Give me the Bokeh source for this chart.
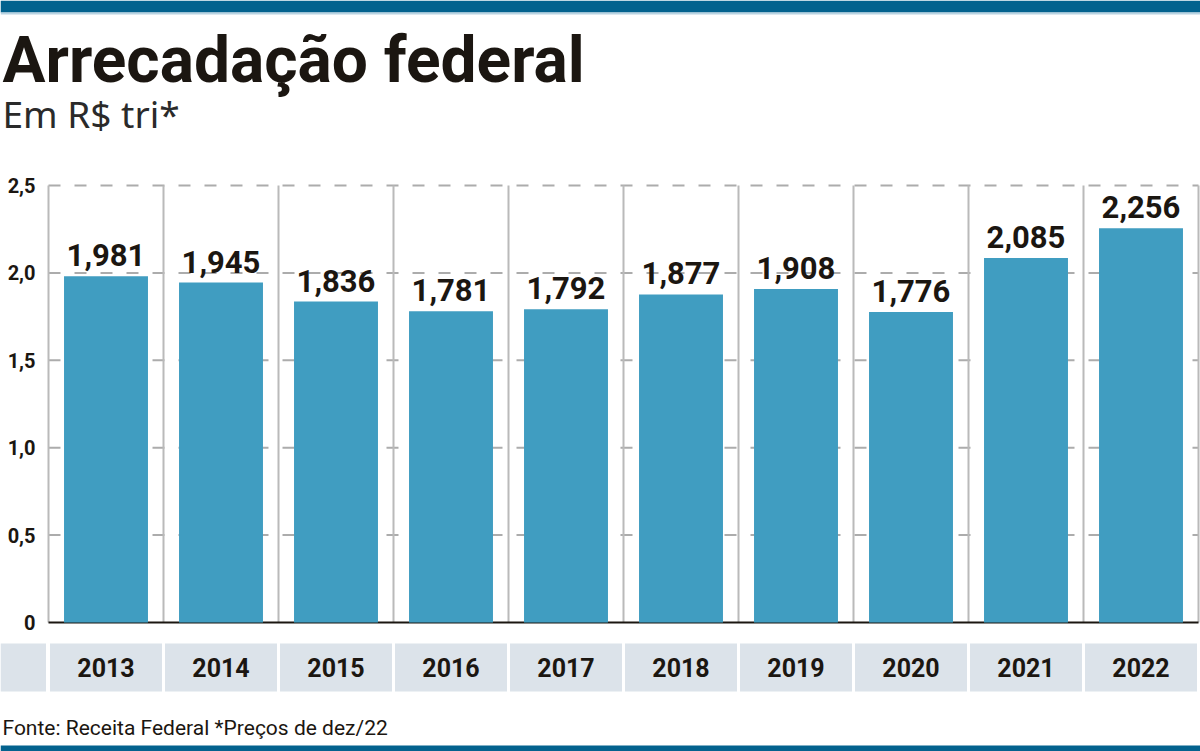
from bokeh.plotting import figure
from bokeh.models import Range1d, Label, BoxAnnotation, ColumnDataSource
from bokeh.core.properties import value
from bokeh.embed import file_html
from bokeh.resources import INLINE

# ---- data ----
years = ["2013", "2014", "2015", "2016", "2017", "2018", "2019", "2020", "2021", "2022"]
revenue = [1.981, 1.945, 1.836, 1.781, 1.792, 1.877, 1.908, 1.776, 2.085, 2.256]
value_labels = ["1,981", "1,945", "1,836", "1,781", "1,792", "1,877", "1,908", "1,776", "2,085", "2,256"]
y_ticks = [0, 0.5, 1.0, 1.5, 2.0, 2.5]
y_tick_labels = ["0", "0,5", "1,0", "1,5", "2,0", "2,5"]

title = "Arrecadação federal"
subtitle = "Em R$ tri*"
footer = "Fonte: Receita Federal *Preços de dez/22"

W, H = 1200, 751
BLUE = "#409dc1"
DARK = "#1b1611"

# pixel mapping: column pitch 115 px, first column centre at 105.5 px; zero at 622 px, 174.8 px per unit
px_per_unit = 174.8
x0_px, col_px, zero_px = 105.5, 115.0, 622.0
x_range = Range1d((0 - x0_px) / col_px, (W - x0_px) / col_px)
y_range = Range1d(-(H - zero_px) / px_per_unit, zero_px / px_per_unit)

p = figure(width=W, height=H, x_range=x_range, y_range=y_range,
           x_axis_type=None, y_axis_type=None, toolbar_location=None,
           output_backend="svg", min_border=0)
p.outline_line_color = None
p.background_fill_color = "white"
p.border_fill_color = "white"
p.grid.visible = False

xs = list(range(len(years)))
src = ColumnDataSource(dict(x=xs, top=revenue, lab=value_labels, year=years))

# dashed horizontal gridlines
ymax = y_ticks[-1]
grid_y = [t for t in y_ticks if t > 0]
p.segment(x0=[-0.5] * len(grid_y), x1=[len(years) - 0.5] * len(grid_y), y0=grid_y, y1=grid_y,
          line_color="#acacac", line_width=2, line_dash="12 14")

# vertical column separators
bounds = [i - 0.5 for i in range(len(years) + 1)]
p.segment(x0=bounds, x1=bounds, y0=[0] * len(bounds), y1=[ymax] * len(bounds),
          line_color="#bababa", line_width=2)

# zero line
p.segment(x0=[-0.5], x1=[len(years) - 0.5], y0=[0], y1=[0], line_color=DARK, line_width=2)

# bars
p.vbar(x="x", top="top", bottom=0, width=0.73, source=src, fill_color=BLUE, line_color=None)

# value labels
p.text(x="x", y="top", text="lab", source=src, text_align="center", text_baseline="alphabetic",
       y_offset=-21, text_font=value("Roboto"), text_font_style="bold", text_font_size="31px",
       text_color=DARK)

# x category band
gap = 1.5 / col_px
band_top = -21 / px_per_unit
band_bot = -69 / px_per_unit
p.quad(left=[x - 0.5 + gap for x in xs], right=[x + 0.5 - gap for x in xs],
       top=band_top, bottom=band_bot, fill_color="#dce3ea", line_color=None)
p.quad(left=[x_range.start], right=[-0.5 - 2.5 / col_px], top=band_top, bottom=band_bot,
       fill_color="#dce3ea", line_color=None)
p.text(x="x", y=(band_top + band_bot) / 2, text="year", source=src, text_align="center",
       text_baseline="middle", text_font=value("Roboto"), text_font_style="bold",
       text_font_size="25px", text_color=DARK)

# y tick labels
tick_x = (35 - x0_px) / col_px
p.text(x=[tick_x] * len(y_ticks), y=y_ticks, text=y_tick_labels, text_align="right",
       text_baseline="middle", text_font=value("Roboto"), text_font_style="bold",
       text_font_size="20px", text_color=DARK)

# top & bottom bands
p.add_layout(BoxAnnotation(bottom=H - 12, top=H, bottom_units="screen", top_units="screen",
                           fill_color="#03628e", fill_alpha=1, line_color=None))
p.add_layout(BoxAnnotation(bottom=H - 14, top=H - 12, bottom_units="screen", top_units="screen",
                           fill_color="#b9d3e2", fill_alpha=1, line_color=None))
p.add_layout(BoxAnnotation(bottom=0, top=6, bottom_units="screen", top_units="screen",
                           fill_color="#03628e", fill_alpha=1, line_color=None))

# title, subtitle, footer
p.add_layout(Label(x=2, y=H - 60, x_units="screen", y_units="screen", text=title,
                   text_font="Roboto", text_font_style="bold", text_font_size="64px",
                   text_color=DARK, text_baseline="alphabetic"))
p.add_layout(Label(x=2, y=H - 113, x_units="screen", y_units="screen", text=subtitle,
                   text_font="Noto Sans", text_font_size="37px",
                   text_color="#2a2a2a", text_baseline="alphabetic"))
p.add_layout(Label(x=2, y=H - 727, x_units="screen", y_units="screen", text=footer,
                   text_font="Roboto", text_font_size="21px",
                   text_color=DARK, text_baseline="alphabetic"))

open("out.html", "w").write(file_html(p, INLINE))
